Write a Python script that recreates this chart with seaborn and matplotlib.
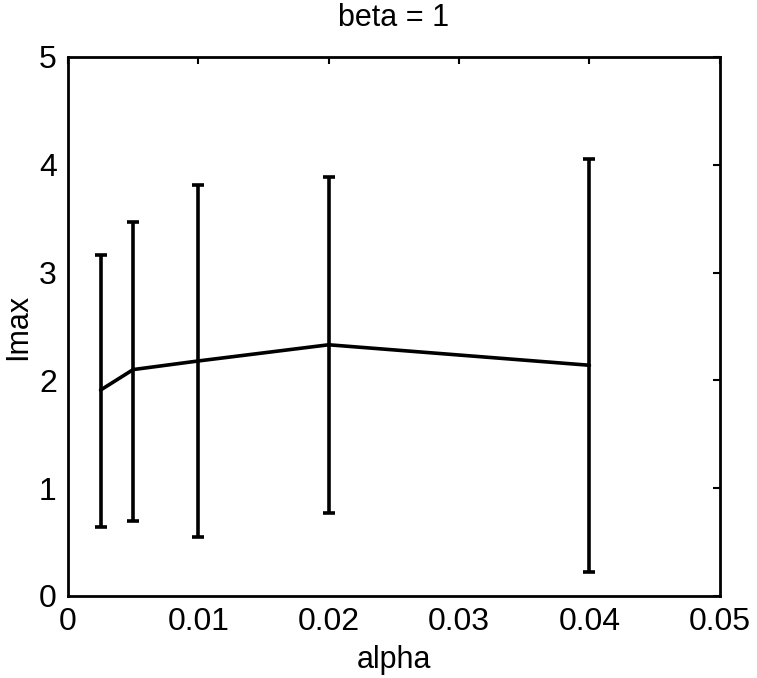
import matplotlib
matplotlib.use("Agg")
import matplotlib.pyplot as plt
import seaborn as sns
import pandas as pd
import numpy as np

# Sampled alpha values and the resulting Imax statistics
alpha = [0.0025, 0.005, 0.01, 0.02, 0.04]
imax_mean = [1.91, 2.10, 2.18, 2.33, 2.14]
imax_low = [0.64, 0.70, 0.55, 0.77, 0.22]
imax_high = [3.16, 3.47, 3.81, 3.89, 4.05]

x_ticks = [0, 0.01, 0.02, 0.03, 0.04, 0.05]
x_tick_labels = ["0", "0.01", "0.02", "0.03", "0.04", "0.05"]
y_ticks = [0, 1, 2, 3, 4, 5]

sns.set_style("white")
plt.rcParams["font.family"] = ["Liberation Sans", "DejaVu Sans"]
plt.rcParams["text.color"] = "black"
plt.rcParams["axes.labelcolor"] = "black"

df = pd.DataFrame({"alpha": alpha, "Imax": imax_mean,
                   "low": imax_low, "high": imax_high})

fig = plt.figure(figsize=(7.57, 6.78), dpi=100)
ax = fig.add_axes([0.0898, 0.121, 0.861, 0.795])

sns.lineplot(data=df, x="alpha", y="Imax", ax=ax, color="black",
             linewidth=2.6, sort=False)

yerr = np.vstack([df["Imax"] - df["low"], df["high"] - df["Imax"]])
ax.errorbar(df["alpha"], df["Imax"], yerr=yerr, fmt="none",
            ecolor="black", elinewidth=2.6, capsize=4.5, capthick=2.6)

ax.set_xlim(0, 0.05)
ax.set_ylim(0, 5)
ax.set_xticks(x_ticks)
ax.set_xticklabels(x_tick_labels)
ax.set_yticks(y_ticks)

ax.tick_params(direction="in", length=5, width=1.5, top=True, right=True,
               labelsize=23, pad=8, colors="black")
for s in ax.spines.values():
    s.set_visible(True)
    s.set_color("black")
    s.set_linewidth(2.0)

ax.set_xlabel("alpha", fontsize=22, labelpad=6)
ax.set_ylabel("Imax", fontsize=22, labelpad=4)
ax.set_title("beta = 1", fontsize=22, pad=22)

fig.savefig("out.png", dpi=100)
